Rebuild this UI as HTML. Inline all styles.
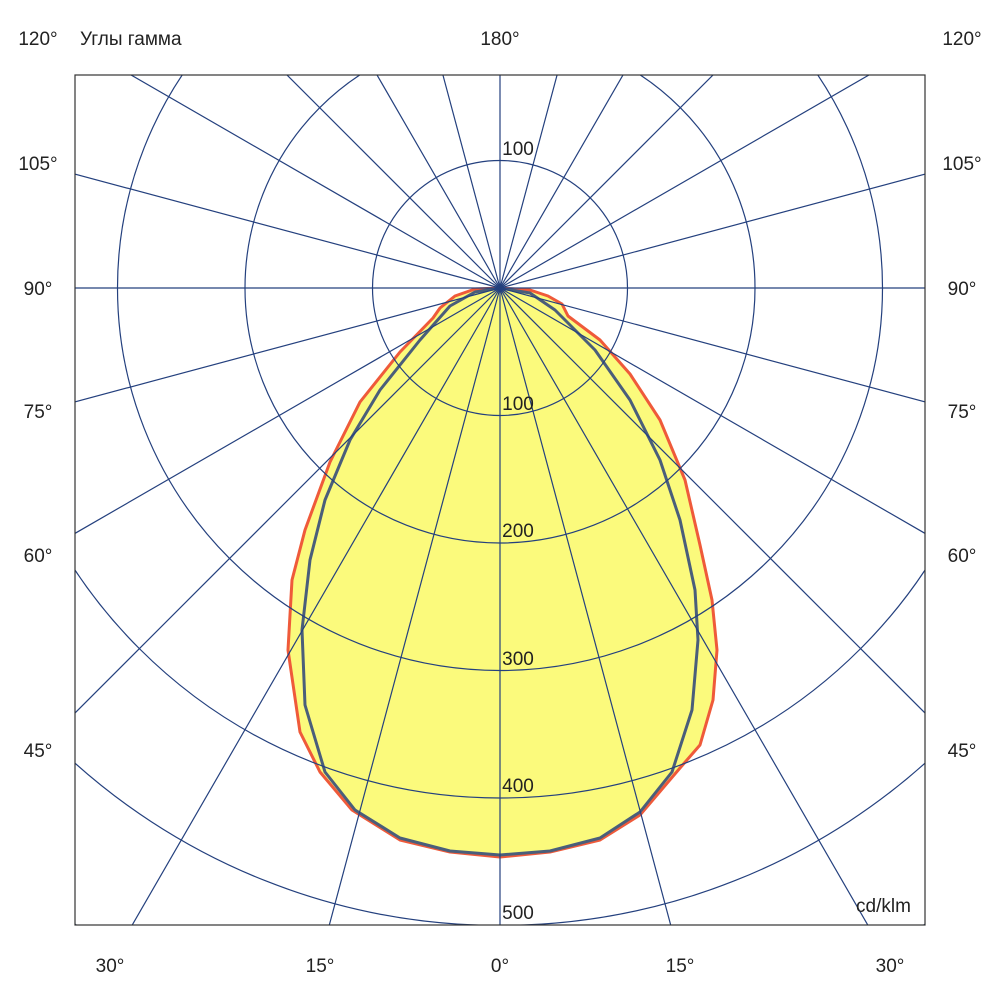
<!DOCTYPE html>
<html><head><meta charset="utf-8"><style>
body{margin:0;background:#fff;overflow:hidden}
svg{display:block}
svg text{font-family:"Liberation Sans",sans-serif;font-size:19px;fill:#222}
</style></head><body>
<svg id="s" width="1000" height="1000" xmlns="http://www.w3.org/2000/svg">
<defs><clipPath id="c"><rect x="75" y="75" width="850" height="850"/></clipPath></defs>
<g clip-path="url(#c)">
<path d="M500,288 L530,290 L548,296 L562,304 L568,316 L600,340 L630,374 L660,420 L685,480 L700,545 L712,600 L717,650 L713,700 L700,745 L680,768 L640,815 L600,840 L550,852 L500,857 L450,852 L400,840 L352,810 L320,772 L300,732 L288,650 L292,580 L305,530 L330,462 L360,402 L400,352 L433,318 L440,308 L455,296 L475,289 Z" fill="#fbfa7c" stroke="#ef5a3a" stroke-width="3" stroke-linejoin="round"/>
<path d="M500,288 L530,293 L555,310 L595,350 L630,400 L660,460 L680,520 L695,590 L698,640 L692,710 L672,772 L640,812 L600,838 L550,851 L500,855 L450,851 L400,838 L355,810 L325,772 L305,705 L302,630 L310,560 L325,500 L350,440 L380,390 L420,340 L450,306 L475,292 Z" fill="none" stroke="#4a5e7a" stroke-width="3" stroke-linejoin="round"/>
<g id="g" stroke="#24407e" stroke-width="1.2" fill="none"></g>
</g>
<rect x="75" y="75" width="850" height="850" fill="none" stroke="#333" stroke-width="1.2"/>
<g text-anchor="middle">
<text x="518" y="155">100</text>
<text x="518" y="410">100</text>
<text x="518" y="537">200</text>
<text x="518" y="665">300</text>
<text x="518" y="792">400</text>
<text x="518" y="919">500</text>
<text x="500" y="45">180°</text>
<text x="110" y="972">30°</text><text x="320" y="972">15°</text><text x="500" y="972">0°</text><text x="680" y="972">15°</text><text x="890" y="972">30°</text>
<text x="38" y="45">120°</text><text x="38" y="170">105°</text><text x="38" y="295">90°</text><text x="38" y="418">75°</text><text x="38" y="562">60°</text><text x="38" y="757">45°</text>
<text x="962" y="45">120°</text><text x="962" y="170">105°</text><text x="962" y="295">90°</text><text x="962" y="418">75°</text><text x="962" y="562">60°</text><text x="962" y="757">45°</text>
</g>
<text x="80" y="45">Углы гамма</text>
<text x="856" y="912">cd/klm</text>
</svg>
<script>
var g=document.getElementById('g'),h='';
for(var i=1;i<=6;i++)h+='<circle cx="500" cy="288" r="'+(127.5*i)+'"/>';
for(var k=0;k<24;k++){var a=k*15*Math.PI/180;h+='<line x1="500" y1="288" x2="'+(500+1200*Math.sin(a))+'" y2="'+(288+1200*Math.cos(a))+'"/>';}
g.innerHTML=h;
</script>
</body></html>
